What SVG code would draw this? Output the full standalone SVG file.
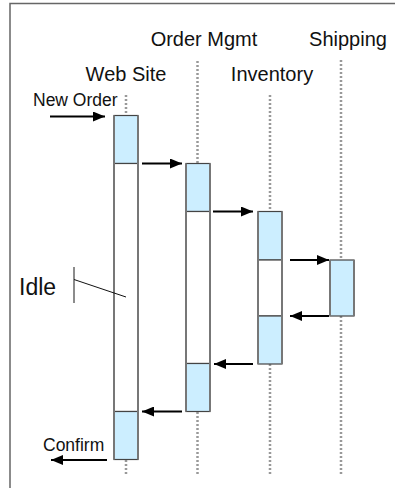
<svg xmlns="http://www.w3.org/2000/svg" width="395" height="488" viewBox="0 0 395 488">
  <style>
    text { font-family: "Liberation Sans", Arial, sans-serif; fill: #111; }
    .head { font-size: 20px; text-anchor: middle; }
    .msg { font-size: 17.5px; }
    .life { stroke: #999; stroke-width: 2.5; stroke-dasharray: 2 2; fill: none; }
    .busy { fill: #cceeff; stroke: #444; stroke-width: 1.2; }
    .idle { fill: #ffffff; stroke: #444; stroke-width: 1.2; }
    .side { stroke: #777; stroke-width: 2; fill: none; }
    .arrow { stroke: #000; stroke-width: 2.2; fill: none; marker-end: url(#tip); }
  </style>
  <defs>
    <marker id="tip" viewBox="0 0 12 10" refX="12" refY="5" markerWidth="12" markerHeight="10" markerUnits="userSpaceOnUse" orient="auto">
      <path d="M0,0 L12,5 L0,10 Z" fill="#000"/>
    </marker>
  </defs>

  <rect width="395" height="488" fill="#fff"/>
  <!-- frame: only top and left edges fall inside the view -->
  <path d="M10,488 V3.5 H395" fill="none" stroke="#666" stroke-width="1.5"/>

  <!-- lifeline headings -->
  <text class="head" x="204" y="46">Order Mgmt</text>
  <text class="head" x="348" y="46">Shipping</text>
  <text class="head" x="126" y="81">Web Site</text>
  <text class="head" x="272" y="81">Inventory</text>

  <!-- dotted lifelines -->
  <g id="lifelines">
    <line class="life" x1="126" y1="95" x2="126" y2="115"/>
    <line class="life" x1="126" y1="460" x2="126" y2="476"/>
    <line class="life" x1="197.5" y1="61" x2="197.5" y2="163"/>
    <line class="life" x1="197.5" y1="412" x2="197.5" y2="476"/>
    <line class="life" x1="270" y1="95" x2="270" y2="211"/>
    <line class="life" x1="270" y1="364" x2="270" y2="476"/>
    <line class="life" x1="341" y1="60" x2="341" y2="260"/>
    <line class="life" x1="341" y1="316" x2="341" y2="476"/>
  </g>

  <!-- Web Site activation -->
  <g id="web-site">
    <rect class="busy" x="114" y="115.5" width="24" height="48"/>
    <rect class="idle" x="114" y="163.5" width="24" height="248"/>
    <rect class="busy" x="114" y="411.5" width="24" height="48"/>
    <path class="side" d="M114,115.5 V459.5 M138,115.5 V459.5"/>
  </g>

  <!-- Order Mgmt activation -->
  <g id="order-mgmt">
    <rect class="busy" x="186" y="163.5" width="24" height="48"/>
    <rect class="idle" x="186" y="211.5" width="24" height="152"/>
    <rect class="busy" x="186" y="363.5" width="24" height="48"/>
    <path class="side" d="M186,163.5 V411.5 M210,163.5 V411.5"/>
  </g>

  <!-- Inventory activation -->
  <g id="inventory">
    <rect class="busy" x="258" y="211.5" width="24" height="48.5"/>
    <rect class="idle" x="258" y="260" width="24" height="56"/>
    <rect class="busy" x="258" y="316" width="24" height="48"/>
    <path class="side" d="M258,211.5 V364 M282,211.5 V364"/>
  </g>

  <!-- Shipping activation -->
  <g id="shipping">
    <rect class="busy" x="330" y="260" width="24" height="56"/>
    <path class="side" d="M330,260 V316 M354,260 V316"/>
  </g>

  <!-- messages -->
  <g id="connectors">
    <line class="arrow" x1="50" y1="116.5" x2="105" y2="116.5"/>
    <line class="arrow" x1="142" y1="163.5" x2="182" y2="163.5"/>
    <line class="arrow" x1="213" y1="211.5" x2="253" y2="211.5"/>
    <line class="arrow" x1="290" y1="260" x2="329" y2="260"/>
    <line class="arrow" x1="329" y1="316" x2="290" y2="316"/>
    <line class="arrow" x1="253" y1="364" x2="214" y2="364"/>
    <line class="arrow" x1="182" y1="411.5" x2="142" y2="411.5"/>
    <line class="arrow" x1="107" y1="460" x2="51" y2="460"/>
  </g>

  <text class="msg" x="33" y="106">New Order</text>
  <text class="msg" x="43" y="451">Confirm</text>

  <!-- idle annotation -->
  <g id="idle-note">
    <text x="19" y="295" font-size="23">Idle</text>
    <line x1="74" y1="267" x2="74" y2="303" stroke="#666" stroke-width="1.5"/>
    <line x1="74" y1="279.5" x2="126" y2="297" stroke="#111" stroke-width="1"/>
  </g>
</svg>
